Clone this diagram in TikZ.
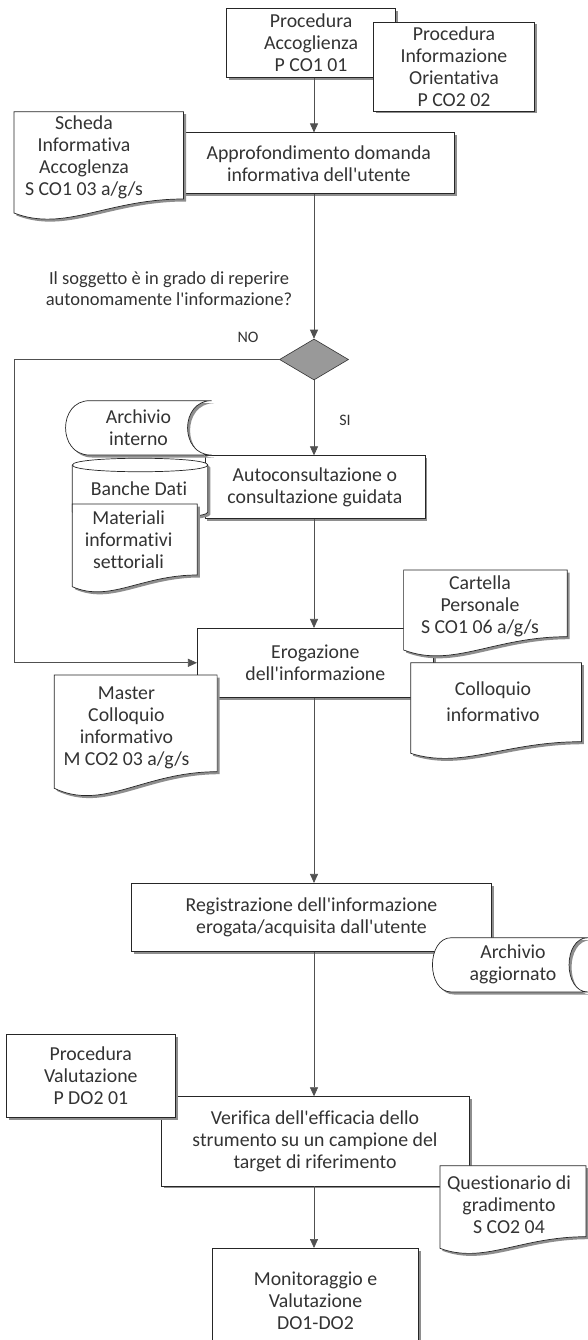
\documentclass[tikz,border=0pt]{standalone}
\usepackage{fontspec}
\setmainfont{Carlito}[Ligatures={TeX,NoCommon}]
\usetikzlibrary{shapes,shadows,arrows.meta,positioning,calc}

\definecolor{inkgray}{HTML}{333333}
\definecolor{linegray}{HTML}{505050}
\definecolor{shadowgray}{HTML}{8E8E8E}
\definecolor{diamondgray}{HTML}{999999}

% document outline: left x, top y, right x, right bottom y, left bottom y
\newcommand{\docpath}[5]{(#1,#2) -- (#3,#2) -- (#3,#4)
  .. controls ({#3-0.45*(#3-#1)},#4) and ({#1+0.3*(#3-#1)},{#5+1.4*(#5-#4)}) .. (#1,#5) -- cycle}
% stored data outline: left x, top y, right x, bottom y, bulge
\newcommand{\storepath}[5]{({#1+#5},#2) -- (#3,#2)
  .. controls ({#3-1.33*#5},#2) and ({#3-1.33*#5},#4) .. (#3,#4) -- ({#1+#5},#4)
  .. controls ({#1-0.33*#5},#4) and ({#1-0.33*#5},#2) .. cycle}
\newcommand{\apo}{\textquotesingle}

\begin{document}
\begin{tikzpicture}[x=1pt, y=-1pt,
    every node/.append style={text=inkgray, font=\fontsize{19.8}{22}\selectfont, align=center, inner sep=0pt},
    procbox/.style={draw=black!85, line width=0.7pt, fill=white,
      drop shadow={shadow xshift=2.5pt, shadow yshift=-2.5pt, fill=shadowgray, opacity=1}},
    docline/.style={draw=black!85, line width=0.7pt, fill=white,
      drop shadow={shadow xshift=2.5pt, shadow yshift=-2.5pt, fill=shadowgray, opacity=1}},
    decision/.style={diamond, draw=black!80, line width=0.6pt, fill=diamondgray,
      minimum width=69pt, minimum height=41pt},
    flow/.style={draw=linegray, line width=0.7pt, -{Triangle[length=9pt,width=8pt]}},
    flowline/.style={draw=linegray, line width=0.7pt}]
  \useasboundingbox (0,0) rectangle (587,1340);
  \fill[white] (0,0) rectangle (587,1340);

  % procedures on top
  \node (procaccoglienza) [procbox, minimum width=169pt, minimum height=69pt] at (311.1,42.8)
    {Procedura\\Accoglienza\\P CO1 01};
  \node (procinformazione) [procbox, minimum width=161pt, minimum height=89pt] at (454,66.5)
    {Procedura\\Informazione\\Orientativa\\P CO2 02};

  \node (approfondimento) [procbox, minimum width=272pt, minimum height=61pt] at (318.8,163.3)
    {Approfondimento domanda\\informativa dell\apo utente};
  \draw[docline] \docpath{13.9}{111.7}{183.5}{199}{213};
  \node (scheda) at (84,157.8) {Scheda\\Informativa\\Accoglenza\\S CO1 03 a/g/s};

  % decision
  \node (domanda) [font=\fontsize{18.5}{21}\selectfont] at (169,288.5)
    {Il soggetto è in grado di reperire\\autonomamente l\apo informazione?};
  \node (reperire) [decision] at (314,359.5) {};
  \node (nolabel) [font=\fontsize{16}{18}\selectfont] at (248,337) {NO};
  \node (silabel) [font=\fontsize{16}{18}\selectfont] at (345,420) {SI};
  \coordinate (noturn) at (13.9,359.5);

  % consultation
  \node (autoconsultazione) [procbox, minimum width=220pt, minimum height=62.6pt] at (314.9,487)
    {Autoconsultazione o\\consultazione guidata};
  \draw[docline] \storepath{65.5}{400.7}{211.5}{455}{24};
  \node (archiviointerno) at (138.5,427.5) {Archivio\\interno};
  \draw[docline] (72.3,465) -- (72.3,512) .. controls (72.3,521) and (207.8,521) .. (207.8,512)
    -- (207.8,465) .. controls (207.8,456) and (72.3,456) .. cycle;
  \draw[draw=black!85, line width=0.7pt] (72.3,465) .. controls (72.3,474) and (207.8,474) .. (207.8,465);
  \node (banchedati) at (139,489) {Banche Dati};
  \draw[docline] \docpath{72.3}{504}{197.3}{575}{586.7};
  \node (materiali) at (128.6,540) {Materiali\\informativi\\settoriali};

  % delivery
  \node (erogazione) [procbox, minimum width=236pt, minimum height=69pt] at (315.3,662.8)
    {Erogazione\\dell\apo informazione};
  \draw[docline] \docpath{403.6}{570}{567.2}{636.7}{650};
  \node (cartella) at (480,606.7) {Cartella\\Personale\\S CO1 06 a/g/s};
  \draw[docline] \docpath{410.7}{662.7}{581.4}{741.7}{753.3};
  \node (colloquio) at (493,701.7) {Colloquio\\[4.5pt]informativo};
  \draw[docline] \docpath{54.3}{675}{217.1}{771.7}{788.3};
  \node (master) at (126.4,728.3) {Master\\Colloquio\\informativo\\M CO2 03 a/g/s};

  % registration
  \node (registrazione) [procbox, minimum width=359.4pt, minimum height=68.4pt] at (311.5,917.5)
    {Registrazione dell\apo informazione\\erogata/acquisita dall\apo utente};
  \draw[docline] \storepath{432.4}{937.7}{588}{992}{19};
  \node (archivioaggiornato) at (513,964) {Archivio\\aggiornato};

  % evaluation
  \node (verifica) [procbox, minimum width=308pt, minimum height=89.3pt] at (315,1141.3)
    {Verifica dell\apo efficacia dello\\strumento su un campione del\\target di riferimento};
  \node (procvalutazione) [procbox, minimum width=168.8pt, minimum height=83pt] at (90.8,1075.8)
    {Procedura\\Valutazione\\P DO2 01};
  \draw[docline] \docpath{439.9}{1165.7}{585.9}{1236.7}{1248.3};
  \node (questionario) at (509,1204.2) {Questionario di\\gradimento\\S CO2 04};
  \node (monitoraggio) [procbox, minimum width=205.5pt, minimum height=104.7pt] at (315.5,1300.7)
    {Monitoraggio e\\Valutazione\\DO1-DO2};

  % connectors, all on the column of the decision
  \draw[flow] (procaccoglienza.south -| reperire) -- (approfondimento.north -| reperire);
  \draw[flow] (approfondimento.south -| reperire) -- (reperire);
  \draw[flow] (reperire) -- (autoconsultazione.north -| reperire);
  \draw[flow] (reperire.west) -- (noturn) |- (erogazione.west);
  \draw[flow] (autoconsultazione.south -| reperire) -- (erogazione.north -| reperire);
  \draw[flow] (erogazione.south -| reperire) -- (registrazione.north -| reperire);
  \draw[flow] (registrazione.south -| reperire) -- (verifica.north -| reperire);
  \draw[flow] (verifica.south -| reperire) -- (monitoraggio.north -| reperire);
\end{tikzpicture}
\end{document}
